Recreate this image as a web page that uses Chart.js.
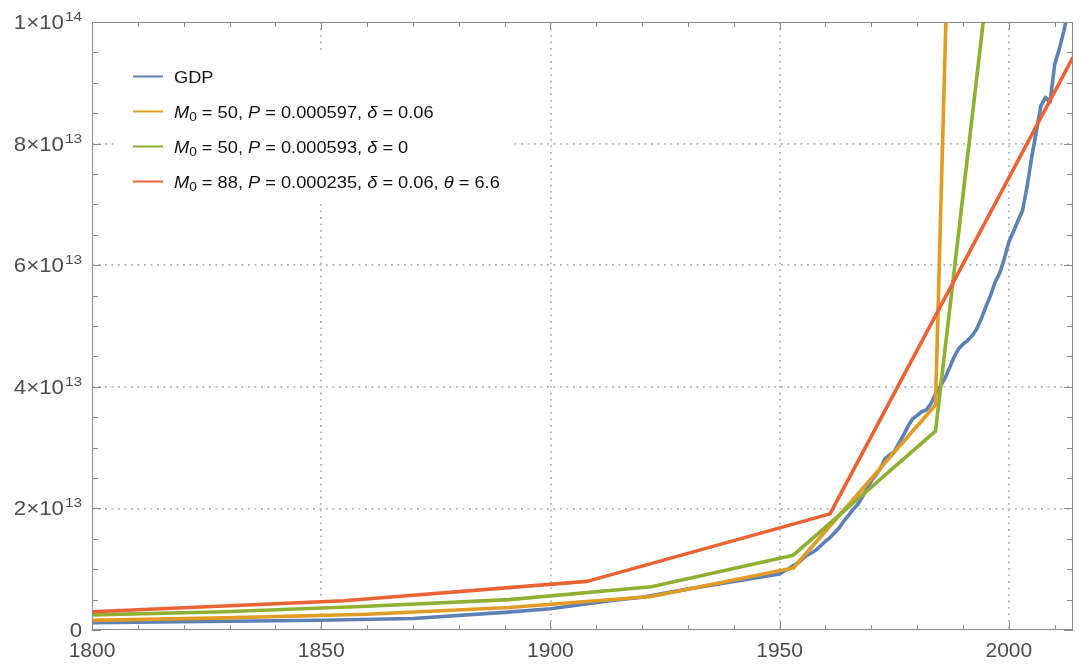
<!DOCTYPE html>
<html>
<head>
<meta charset="utf-8">
<script src="https://cdn.jsdelivr.net/npm/chart.js@4.4.1/dist/chart.umd.min.js"></script>
<style>
  html, body { margin: 0; padding: 0; background: #fff; }
  #wrap { width: 1083px; height: 666px; }
</style>
</head>
<body>
<div id="wrap"><canvas id="gdpChart" width="1083" height="666"></canvas></div>
<script>
// values are in units of 1e13 dollars
const UNIT = 1e13;

// world GDP (blue)
const gdpYears = [1800, 1820, 1850, 1870, 1890, 1900, 1913, 1920, 1929, 1940,
    1950, 1951, 1952, 1953, 1954, 1955, 1956, 1957, 1958, 1959,
    1960, 1961, 1962, 1963, 1964, 1965, 1966, 1967, 1968, 1969,
    1970, 1971, 1972, 1973, 1974, 1975, 1976, 1977, 1978, 1979,
    1980, 1981, 1982, 1983, 1984, 1985, 1986, 1987, 1988, 1989,
    1990, 1991, 1992, 1993, 1994, 1995, 1996, 1997, 1998, 1999,
    2000, 2001, 2002, 2003, 2004, 2005, 2006, 2007, 2008, 2009,
    2010, 2011, 2012, 2013, 2014];
const gdpValues = [0.12, 0.135, 0.16, 0.19, 0.29, 0.35, 0.48, 0.54, 0.66, 0.80,
    0.92, 0.97, 1.01, 1.06, 1.10, 1.17, 1.23, 1.27, 1.32, 1.39,
    1.46, 1.52, 1.60, 1.68, 1.79, 1.88, 1.98, 2.06, 2.18, 2.32,
    2.45, 2.55, 2.66, 2.82, 2.88, 2.93, 3.07, 3.20, 3.35, 3.47,
    3.53, 3.59, 3.62, 3.72, 3.88, 4.00, 4.13, 4.30, 4.48, 4.62,
    4.70, 4.76, 4.84, 4.95, 5.12, 5.32, 5.50, 5.72, 5.87, 6.10,
    6.38, 6.55, 6.73, 6.90, 7.30, 7.78, 8.20, 8.62, 8.76, 8.68,
    9.30, 9.55, 9.85, 10.2, 10.5];

// model runs sampled every 31 years (orange, green)
const modelYears = [1798, 1829, 1860, 1891, 1922, 1953, 1984, 2015];
const modelA = [0.155, 0.20, 0.26, 0.37, 0.55, 1.02, 3.70, 89.8];
const modelB = [0.245, 0.30, 0.39, 0.50, 0.71, 1.23, 3.27, 23.3];

// model with theta (red)
const thetaYears = [1800, 1855, 1908, 1961, 2014];
const modelC = [0.30, 0.48, 0.80, 1.91, 9.42];

const legendLabels = [
    'GDP',
    '*M*_0 = 50, *P* = 0.000597, *δ* = 0.06',
    '*M*_0 = 50, *P* = 0.000593, *δ* = 0',
    '*M*_0 = 88, *P* = 0.000235, *δ* = 0.06, *θ* = 6.6'
];
const colors = ['#5E81B5', '#E19C24', '#8FB032', '#EB6235'];

const xTickValues = [1800, 1810, 1820, 1830, 1840, 1850, 1860, 1870, 1880, 1890, 1900,
    1910, 1920, 1930, 1940, 1950, 1960, 1970, 1980, 1990, 2000, 2010];
const xMajor = [1800, 1850, 1900, 1950, 2000];
const yTickValues = [0, 0.5, 1, 1.5, 2, 2.5, 3, 3.5, 4, 4.5, 5, 5.5, 6, 6.5, 7, 7.5, 8, 8.5, 9, 9.5, 10];
const yMajor = [0, 2, 4, 6, 8, 10];
const yTickLabels = ['0', '2×10^13', '4×10^13', '6×10^13', '8×10^13', '1×10^14'];

const FONT = '"Liberation Sans", Arial, sans-serif';
const LABEL_COLOR = '#4d4d4d';
const SX = 1.14; // the lettering in the original is a little wide

function toPoints(xs, ys) {
    return xs.map((x, i) => ({ x: x, y: ys[i] * UNIT }));
}

function textW(ctx, txt) {
    return ctx.measureText(txt).width * SX;
}

function fillWide(ctx, txt, x, y) {
    ctx.save();
    ctx.translate(x, y);
    ctx.scale(SX, 1);
    ctx.fillText(txt, 0, 0);
    ctx.restore();
}

// *text* = italic, _d = subscript
function drawRich(ctx, markup, x, y, size) {
    const parts = markup.split(/(\*[^*]+\*|_\d)/).filter(s => s);
    let cx = x;
    parts.forEach(p => {
        let txt = p, font = size + 'px ' + FONT, dy = 0;
        if (p[0] === '*') {
            txt = p.slice(1, -1);
            font = 'italic ' + size + 'px ' + FONT;
        } else if (p[0] === '_') {
            txt = p.slice(1);
            font = Math.round(size * 0.72) + 'px ' + FONT;
            dy = size * 0.22;
        }
        ctx.font = font;
        fillWide(ctx, txt, cx, y + dy);
        cx += textW(ctx, txt);
    });
    return cx - x;
}

// Frame, inner ticks, y labels with exponents, legend
const decorations = {
    id: 'decorations',
    afterDatasetsDraw(chart) {
        const { ctx, chartArea: a, scales: { x, y } } = chart;
        ctx.save();

        // legend box, sized to the longest label
        ctx.globalAlpha = 0;
        let maxW = 0;
        legendLabels.forEach(l => { maxW = Math.max(maxW, drawRich(ctx, l, 0, -50, 16)); });
        ctx.globalAlpha = 1;
        ctx.fillStyle = '#fff';
        ctx.fillRect(118, 54, 174 + maxW + 12 - 118, 146);
        ctx.textBaseline = 'alphabetic';
        legendLabels.forEach((label, i) => {
            const cy = 76.5 + i * 35;
            ctx.strokeStyle = colors[i];
            ctx.lineWidth = 2;
            ctx.beginPath();
            ctx.moveTo(133, cy);
            ctx.lineTo(163, cy);
            ctx.stroke();
            ctx.fillStyle = '#111';
            drawRich(ctx, label, 174, cy + 6, 16);
        });

        // frame
        ctx.strokeStyle = '#8a8a8a';
        ctx.lineWidth = 1;
        ctx.strokeRect(Math.round(a.left) + 0.5, Math.round(a.top) + 0.5,
            Math.round(a.width) - 1, Math.round(a.height) - 1);

        ctx.beginPath();
        xTickValues.forEach(v => {
            const px = Math.round(x.getPixelForValue(v)) + 0.5;
            const len = xMajor.includes(v) ? 8 : 5;
            ctx.moveTo(px, a.bottom); ctx.lineTo(px, a.bottom - len);
            ctx.moveTo(px, a.top); ctx.lineTo(px, a.top + len);
        });
        yTickValues.forEach(v => {
            const py = Math.round(y.getPixelForValue(v * UNIT)) + 0.5;
            const len = yMajor.includes(v) ? 9 : 6;
            ctx.moveTo(a.left, py); ctx.lineTo(a.left + len, py);
            ctx.moveTo(a.right, py); ctx.lineTo(a.right - len, py);
        });
        ctx.stroke();

        // y labels, mantissa and raised exponent
        ctx.fillStyle = LABEL_COLOR;
        yMajor.forEach((v, i) => {
            const py = y.getPixelForValue(v * UNIT);
            const [base, exp] = yTickLabels[i].split('^');
            ctx.font = '19.5px ' + FONT;
            const wb = textW(ctx, base);
            ctx.font = '13.5px ' + FONT;
            const we = exp ? textW(ctx, exp) + 1 : 0;
            const right = a.left - 10;
            ctx.font = '19.5px ' + FONT;
            fillWide(ctx, base, right - wb - we, py + 7);
            if (exp) {
                ctx.font = '13.5px ' + FONT;
                fillWide(ctx, exp, right - we + 1, py - 1);
            }
        });
        ctx.restore();
    }
};

new Chart(document.getElementById('gdpChart'), {
    type: 'line',
    data: {
        datasets: [
            { label: 'GDP', data: toPoints(gdpYears, gdpValues), borderColor: colors[0], order: 4 },
            { label: 'A', data: toPoints(modelYears, modelA), borderColor: colors[1], order: 3 },
            { label: 'B', data: toPoints(modelYears, modelB), borderColor: colors[2], order: 2 },
            { label: 'C', data: toPoints(thetaYears, modelC), borderColor: colors[3], order: 1 }
        ]
    },
    options: {
        responsive: false,
        animation: false,
        events: [],
        layout: { padding: { top: 22, right: 10, left: 0, bottom: 0 } },
        elements: {
            line: { borderWidth: 3.6, tension: 0, borderJoinStyle: 'round', fill: false },
            point: { radius: 0 }
        },
        plugins: {
            legend: { display: false },
            tooltip: { enabled: false }
        },
        scales: {
            x: {
                type: 'linear',
                min: 1800,
                max: 2014,
                afterBuildTicks: s => { s.ticks = xTickValues.map(v => ({ value: v })); },
                afterFit: s => { s.height = 36; },
                ticks: {
                    autoSkip: false,
                    maxRotation: 0,
                    padding: 9,
                    color: LABEL_COLOR,
                    font: { family: FONT, size: 21 },
                    callback: v => xMajor.includes(v) ? String(v) : ''
                },
                grid: {
                    drawTicks: false,
                    lineWidth: 1.8,
                    color: c => (c.tick && xMajor.includes(c.tick.value) && c.tick.value !== 1800)
                        ? '#b2b2b2' : 'rgba(0,0,0,0)'
                },
                border: { display: false, dash: [1.8, 4.7] }
            },
            y: {
                min: 0,
                max: 10 * UNIT,
                afterBuildTicks: s => { s.ticks = yTickValues.map(v => ({ value: v * UNIT })); },
                afterFit: s => { s.width = 92; },
                ticks: { display: false },
                grid: {
                    drawTicks: false,
                    lineWidth: 1.8,
                    color: c => {
                        const v = c.tick ? c.tick.value / UNIT : -1;
                        return (yMajor.includes(v) && v !== 0 && v !== 10) ? '#b2b2b2' : 'rgba(0,0,0,0)';
                    }
                },
                border: { display: false, dash: [1.8, 4.7] }
            }
        }
    },
    plugins: [decorations]
});
</script>
</body>
</html>
